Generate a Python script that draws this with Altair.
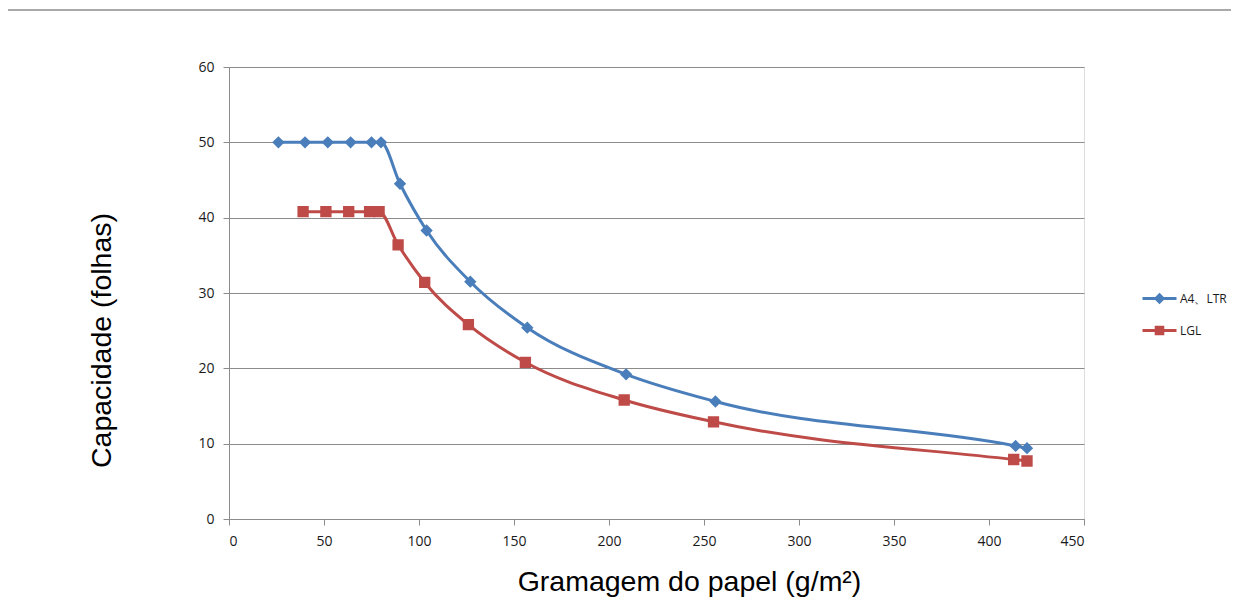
import altair as alt
import pandas as pd

series_names = ["A4、LTR", "LGL"]
a4_x = [26, 40, 52, 64, 75, 80, 90, 104, 127, 157, 209, 256, 414, 420]
a4_y = [50, 50, 50, 50, 50, 50, 44.5, 38.3, 31.5, 25.4, 19.2, 15.6, 9.7, 9.4]
lgl_x = [39, 51, 63, 74, 79, 89, 103, 126, 156, 208, 255, 413, 420]
lgl_y = [40.8, 40.8, 40.8, 40.8, 40.8, 36.4, 31.4, 25.8, 20.8, 15.8, 12.9, 7.9, 7.7]
x_ticks = [0, 50, 100, 150, 200, 250, 300, 350, 400, 450]
y_ticks = [0, 10, 20, 30, 40, 50, 60]
colors = ["#4A7EBB", "#BE4B48"]

df = pd.concat([
    pd.DataFrame({"x": a4_x, "y": a4_y, "series": series_names[0]}),
    pd.DataFrame({"x": lgl_x, "y": lgl_y, "series": series_names[1]}),
], ignore_index=True)

diamond = "M-3.4,0L3.4,0M0,-0.72L0.72,0L0,0.72L-0.72,0Z"
square = "M-3.4,0L3.4,0M-0.66,-0.66L0.66,-0.66L0.66,0.66L-0.66,0.66Z"

grid_col = "#8c8c8c"
xenc = alt.X("x:Q", scale=alt.Scale(domain=[0, 450], nice=False),
             axis=alt.Axis(values=x_ticks, title="Gramagem do papel (g/m²)", grid=False,
                           domainColor=grid_col, tickColor=grid_col, tickSize=6,
                           labelPadding=9, labelFont="Open Sans", labelFontSize=14,
                           labelColor="#1a1a1a", titleFont="Liberation Sans",
                           titleFontSize=28.5, titleFontWeight="normal", titleColor="#000000",
                           titleX=460, titleY=71, titleBaseline="alphabetic", titleAnchor="middle"))
yenc = alt.Y("y:Q", scale=alt.Scale(domain=[0, 60], nice=False),
             axis=alt.Axis(values=y_ticks, title="Capacidade (folhas)", grid=True,
                           gridColor=grid_col, gridWidth=1, domainColor=grid_col,
                           tickColor=grid_col, tickSize=6, labelPadding=9,
                           labelFont="Open Sans", labelFontSize=14, labelColor="#1a1a1a",
                           titleFont="Liberation Sans", titleFontSize=28.5,
                           titleFontWeight="normal", titleColor="#000000",
                           titleX=-128, titleY=273, titleBaseline="middle", titleAngle=270,
                           titleAlign="center"))

base = alt.Chart(df)
cscale = alt.Scale(domain=series_names, range=colors)

lines = base.mark_line(strokeWidth=3, interpolate="monotone").encode(
    x=xenc, y=yenc,
    color=alt.Color("series:N", scale=cscale, title=None),
)

points = base.mark_point(filled=True, strokeWidth=0, size=294, opacity=1).encode(
    x="x:Q", y="y:Q",
    shape=alt.Shape("series:N", scale=alt.Scale(domain=series_names, range=[diamond, square]), title=None),
    color=alt.Color("series:N", scale=cscale, title=None),
    stroke=alt.Stroke("series:N", scale=cscale, title=None),
)

one = alt.Chart(pd.DataFrame({"a": [0]}))
border_top = one.mark_rule(color="#8c8c8c", strokeWidth=1.5).encode(
    x=alt.value(-221), x2=alt.value(1010), y=alt.value(-57))

chart = alt.layer(lines, points, border_top).properties(
    width=855, height=452,
    autosize=alt.AutoSizeParams(type="none"),
    padding={"left": 221, "top": 59, "right": 147, "bottom": 78},
).configure_view(stroke=None).configure(background="white").configure_legend(
    orient="none", legendX=924, legendY=225, padding=0,
    symbolSize=100, symbolStrokeWidth=3,
    labelFont="Open Sans", labelFontSize=12, labelColor="#1a1a1a",
    labelOffset=14, rowPadding=12,
)

chart.save("out.html", embed_options={"renderer": "svg", "actions": False})
